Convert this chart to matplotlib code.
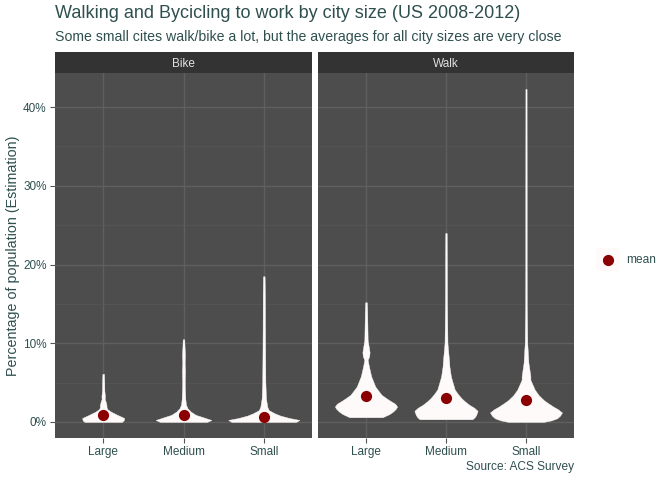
import matplotlib
matplotlib.use("Agg")
import matplotlib.pyplot as plt
from matplotlib.ticker import MultipleLocator, FuncFormatter
import numpy as np

plt.rcParams['font.family'] = ['Liberation Sans', 'DejaVu Sans']

TEXT = '#2F4F4F'
SNOW = '#FFFAFA'
DOT = '#8B0000'

facets = ['Bike', 'Walk']
sizes = ['Large', 'Medium', 'Small']

# violin outlines: y in percent, relative half-width
bike_large_y = [0.0, 0.2, 0.5, 0.9, 1.3, 1.6, 1.8, 2.2, 2.6, 2.9, 3.3, 3.6, 4.0, 5.0, 6.1]
bike_large_w = [19, 21, 21.5, 14.5, 8, 4.5, 3.5, 3.3, 2.5, 1.6, 1.8, 1.5, 1.2, 1.1, 0.8]
bike_medium_y = [0.0, 0.25, 0.6, 0.9, 1.3, 1.75, 2.2, 3.0, 4.0, 5.0, 6.5, 7.5, 8.5, 9.5, 10.5]
bike_medium_w = [24, 28.5, 20, 12.5, 7.5, 4, 2.5, 1.8, 1.5, 1.3, 1.6, 1.2, 1.5, 1.1, 0.8]
bike_small_y = [0.0, 0.25, 0.5, 0.8, 1.1, 1.5, 1.95, 3.0, 5.0, 8.0, 12.0, 16.0, 18.5]
bike_small_w = [33, 36.5, 26, 17, 11, 5, 3.5, 2.2, 1.6, 1.4, 1.2, 1.1, 0.8]
walk_large_y = [0.6, 1.0, 1.3, 1.65, 1.95, 2.3, 2.6, 3.0, 3.44, 4.0, 4.5, 5.8, 7.05, 7.9, 8.3, 8.85, 9.4, 10.4, 13.9, 15.2]
walk_large_w = [17, 24, 27.5, 30.5, 32, 30, 26, 21, 16, 12.5, 9.5, 5.3, 3, 1.7, 3.2, 3.7, 3, 1.7, 1.2, 0.8]
walk_medium_y = [0.34, 0.6, 0.9, 1.4, 1.8, 2.17, 2.6, 3.0, 3.5, 4.1, 5.35, 5.8, 7.05, 7.5, 10.0, 15.0, 20.0, 24.0]
walk_medium_w = [27, 29.5, 31, 32.5, 29, 24, 19.5, 16, 12.5, 9, 6, 5, 3.5, 3.3, 1.5, 1.0, 0.9, 0.7]
walk_small_y = [0.0, 0.2, 0.47, 0.8, 1.2, 1.6, 1.95, 2.4, 2.8, 3.4, 4.1, 5.35, 5.8, 7.5, 10.0, 15.0, 20.0, 30.0, 42.3]
walk_small_w = [18, 26, 32, 35, 37, 33, 28, 22.5, 18, 13, 9, 4.5, 4.5, 2.5, 1.3, 0.8, 0.7, 0.7, 0.6]

violins = {
    'Bike': [(bike_large_y, bike_large_w), (bike_medium_y, bike_medium_w), (bike_small_y, bike_small_w)],
    'Walk': [(walk_large_y, walk_large_w), (walk_medium_y, walk_medium_w), (walk_small_y, walk_small_w)],
}

bike_means = [0.93, 0.90, 0.68]
walk_means = [3.35, 3.0, 2.85]
means = {'Bike': bike_means, 'Walk': walk_means}

max_w = max(max(w) for f in facets for _, w in violins[f])

fig = plt.figure(figsize=(6.72, 4.8), dpi=100)
W, H = 672, 480
panels = {'Bike': (55, 312), 'Walk': (318, 574)}
top, bottom, strip_top = 73, 438, 52

for i, f in enumerate(facets):
    x0, x1 = panels[f]
    ax = fig.add_axes([x0 / W, 1 - bottom / H, (x1 - x0) / W, (bottom - top) / H])
    ax.set_facecolor('#4D4D4D')
    for s in ax.spines.values():
        s.set_visible(False)
    ax.set_xlim(0.4, 3.6)
    ax.set_ylim(-2.04, 44.33)
    ax.yaxis.set_major_locator(MultipleLocator(10))
    ax.yaxis.set_minor_locator(MultipleLocator(5))
    ax.grid(which='major', color='#5F5F5F', lw=1.0)
    ax.grid(which='minor', axis='y', color='#585858', lw=0.5)
    ax.set_axisbelow(True)
    ax.set_xticks(range(1, 4))
    ax.set_xticklabels(sizes)
    ax.tick_params(axis='both', colors='#555555', labelcolor=TEXT, labelsize=8.5, length=3.5, width=0.8, pad=2.5)
    ax.tick_params(which='minor', length=0)
    ax.yaxis.set_major_formatter(FuncFormatter(lambda v, p: f'{v:.0f}%'))
    if i > 0:
        ax.tick_params(axis='y', which='both', left=False, labelleft=False)
    else:
        ax.set_ylabel('Percentage of population (Estimation)', color=TEXT, fontsize=10.3)
        ax.yaxis.set_label_coords(-(55 - 20) / (x1 - x0), 0.5)

    for k, (yv, wv) in enumerate(violins[f]):
        yv = np.array(yv)
        hw = np.array(wv) / max_w * 0.45
        ax.fill_betweenx(yv, k + 1 - hw, k + 1 + hw, color=SNOW, lw=0.3, edgecolor=SNOW, zorder=2)
    ax.scatter(range(1, 4), means[f], s=65, color=DOT, zorder=3, lw=0)

    # facet strip
    sax = fig.add_axes([x0 / W, 1 - top / H, (x1 - x0) / W, (top - strip_top) / H])
    sax.set_facecolor('#333333')
    sax.set_xticks([])
    sax.set_yticks([])
    for s in sax.spines.values():
        s.set_visible(False)
    sax.text(0.5, 0.45, f, ha='center', va='center', color='#E0E0E0', fontsize=8.5, transform=sax.transAxes)

fig.text(55 / W, 1 - 14 / H, 'Walking and Bycicling to work by city size (US 2008-2012)',
         ha='left', va='center', color=TEXT, fontsize=13)
fig.text(55 / W, 1 - 37 / H, 'Some small cites walk/bike a lot, but the averages for all city sizes are very close',
         ha='left', va='center', color=TEXT, fontsize=10.2)
fig.text(574 / W, 1 - 467 / H, 'Source: ACS Survey', ha='right', va='center', color=TEXT, fontsize=8.6)

# legend
kax = fig.add_axes([596 / W, 1 - 271 / H, 23 / W, 23 / H])
kax.set_facecolor(SNOW)
kax.set_xlim(0, 1)
kax.set_ylim(0, 1)
kax.set_xticks([])
kax.set_yticks([])
for s in kax.spines.values():
    s.set_visible(False)
kax.scatter([0.5], [0.5], s=65, color=DOT, lw=0)
fig.text(626 / W, 1 - 260 / H, 'mean', ha='left', va='center', color=TEXT, fontsize=8.6)

fig.savefig('out.png', dpi=100)
